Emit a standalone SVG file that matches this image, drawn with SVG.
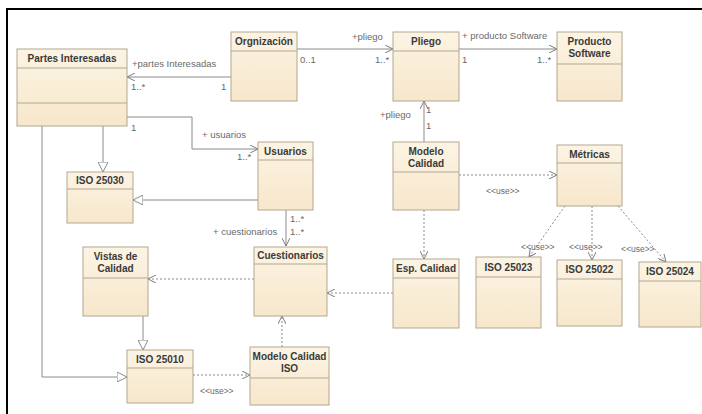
<svg xmlns="http://www.w3.org/2000/svg" width="702" height="414" viewBox="0 0 702 414">
<defs>
<linearGradient id="fill" x1="0" y1="0" x2="0" y2="1">
<stop offset="0" stop-color="#fcf4e4"/>
<stop offset="1" stop-color="#f7e7cb"/>
</linearGradient>
<marker id="open" viewBox="0 0 10 10" refX="10" refY="5" markerWidth="8" markerHeight="8" markerUnits="userSpaceOnUse" orient="auto">
<path d="M0,0 L10,5 L0,10" fill="none" stroke="#777" stroke-width="1.2"/>
</marker>
<marker id="tri" viewBox="0 0 10 10" refX="10" refY="5" markerWidth="10" markerHeight="10" markerUnits="userSpaceOnUse" orient="auto">
<path d="M0,0 L10,5 L0,10 Z" fill="#fff" stroke="#888" stroke-width="1"/>
</marker>
</defs>
<style>
.box{fill:url(#fill);stroke:#b3a78f;stroke-width:1}
.div{stroke:#b3a78f;stroke-width:1}
.t{font-family:"Liberation Sans",Arial,sans-serif;font-size:10px;font-weight:bold;fill:#3a3a3a;text-anchor:middle}
.l{font-family:"Liberation Sans",Arial,sans-serif;font-size:9.5px;fill:#6a6a6a}
.u{font-family:"Liberation Sans",Arial,sans-serif;font-size:8.5px;fill:#6a6a6a}
.a{fill:none;stroke:#8a8a8a;stroke-width:1;marker-end:url(#open)}
.d{fill:none;stroke:#8a8a8a;stroke-width:1;stroke-dasharray:2,2;marker-end:url(#open)}
.g{fill:none;stroke:#8a8a8a;stroke-width:1;marker-end:url(#tri)}
</style>
<rect width="702" height="414" fill="#fff"/>
<path d="M7,414 V9 H702" fill="none" stroke="#000" stroke-width="2"/>

<g id="connectors">
<path class="a" d="M231,77 H127"/>
<path class="a" d="M297,49 H393"/>
<path class="a" d="M459,49 H557"/>
<path class="a" d="M424,142 V101"/>
<path class="a" d="M127,117 H192 V149 H258"/>
<path class="g" d="M103,126 V172"/>
<path class="g" d="M258,200 H133"/>
<path class="a" d="M286,210 V246"/>
<path class="g" d="M42,126 V377 H127"/>
<path class="g" d="M143,316 V350"/>
<path class="d" d="M254,279 H148"/>
<path class="d" d="M393,293 H327"/>
<path class="d" d="M424,210 V259"/>
<path class="d" d="M459,175 H557"/>
<path class="d" d="M565,206 L529,257"/>
<path class="d" d="M592,206 V260"/>
<path class="d" d="M618,206 L666,262"/>
<path class="d" d="M193,375 H250"/>
<path class="d" d="M282,347 V316"/>
<text class="l" x="132" y="67">+partes Interesadas</text>
<text class="l" x="131" y="90">1..*</text>
<text class="l" x="221" y="90">1</text>
<text class="l" x="352" y="40">+pliego</text>
<text class="l" x="300" y="63">0..1</text>
<text class="l" x="375" y="63">1..*</text>
<text class="l" x="462" y="39">+ producto Software</text>
<text class="l" x="462" y="63">1</text>
<text class="l" x="537" y="63">1..*</text>
<text class="l" x="380" y="118">+pliego</text>
<text class="l" x="426" y="113">1</text>
<text class="l" x="426" y="129">1</text>
<text class="l" x="131" y="131">1</text>
<text class="l" x="202" y="138">+ usuarios</text>
<text class="l" x="237" y="160">1..*</text>
<text class="l" x="290" y="222">1..*</text>
<text class="l" x="290" y="235">1..*</text>
<text class="l" x="213" y="235">+ cuestionarios</text>
<text class="u" x="486" y="194">&lt;&lt;use&gt;&gt;</text>
<text class="u" x="521" y="250">&lt;&lt;use&gt;&gt;</text>
<text class="u" x="569" y="250">&lt;&lt;use&gt;&gt;</text>
<text class="u" x="621" y="252">&lt;&lt;use&gt;&gt;</text>
<text class="u" x="200" y="394">&lt;&lt;use&gt;&gt;</text>
</g>

<g id="partes">
<rect class="box" x="17" y="49" width="110" height="77"/>
<line class="div" x1="17" y1="68" x2="127" y2="68"/>
<line class="div" x1="17" y1="103" x2="127" y2="103"/>
<text class="t" x="72" y="62">Partes Interesadas</text>
</g>
<g id="organizacion">
<rect class="box" x="231" y="32" width="66" height="69"/>
<line class="div" x1="231" y1="51" x2="297" y2="51"/>
<text class="t" x="264" y="45">Orgnización</text>
</g>
<g id="pliego">
<rect class="box" x="393" y="32" width="66" height="69"/>
<line class="div" x1="393" y1="51" x2="459" y2="51"/>
<text class="t" x="426" y="45">Pliego</text>
</g>
<g id="producto">
<rect class="box" x="557" y="32" width="65" height="69"/>
<line class="div" x1="557" y1="64" x2="622" y2="64"/>
<text class="t" x="589.5" y="45">Producto</text>
<text class="t" x="589.5" y="57">Software</text>
</g>
<g id="iso25030">
<rect class="box" x="67" y="172" width="66" height="51"/>
<line class="div" x1="67" y1="189" x2="133" y2="189"/>
<text class="t" x="100" y="184">ISO 25030</text>
</g>
<g id="usuarios">
<rect class="box" x="258" y="142" width="55" height="68"/>
<line class="div" x1="258" y1="160" x2="313" y2="160"/>
<text class="t" x="285.5" y="155">Usuarios</text>
</g>
<g id="modelocalidad">
<rect class="box" x="393" y="142" width="66" height="68"/>
<line class="div" x1="393" y1="172" x2="459" y2="172"/>
<text class="t" x="426" y="155">Modelo</text>
<text class="t" x="426" y="167">Calidad</text>
</g>
<g id="metricas">
<rect class="box" x="557" y="145" width="65" height="61"/>
<line class="div" x1="557" y1="163" x2="622" y2="163"/>
<text class="t" x="589.5" y="158">Métricas</text>
</g>
<g id="iso25023">
<rect class="box" x="476" y="257" width="65" height="71"/>
<line class="div" x1="476" y1="277" x2="541" y2="277"/>
<text class="t" x="508.5" y="271">ISO 25023</text>
</g>
<g id="iso25022">
<rect class="box" x="557" y="260" width="65" height="66"/>
<line class="div" x1="557" y1="279" x2="622" y2="279"/>
<text class="t" x="589.5" y="273">ISO 25022</text>
</g>
<g id="iso25024">
<rect class="box" x="639" y="262" width="62" height="65"/>
<line class="div" x1="639" y1="281" x2="701" y2="281"/>
<text class="t" x="670" y="275">ISO 25024</text>
</g>
<g id="espcalidad">
<rect class="box" x="393" y="259" width="66" height="69"/>
<line class="div" x1="393" y1="278" x2="459" y2="278"/>
<text class="t" x="426" y="272">Esp. Calidad</text>
</g>
<g id="cuestionarios">
<rect class="box" x="254" y="247" width="73" height="69"/>
<line class="div" x1="254" y1="264" x2="327" y2="264"/>
<text class="t" x="290.5" y="259">Cuestionarios</text>
</g>
<g id="modeloiso">
<rect class="box" x="250" y="347" width="79" height="58"/>
<line class="div" x1="250" y1="378" x2="329" y2="378"/>
<text class="t" x="289.5" y="360">Modelo Calidad</text>
<text class="t" x="289.5" y="372">ISO</text>
</g>
<g id="vistas">
<rect class="box" x="83" y="247" width="65" height="69"/>
<line class="div" x1="83" y1="278" x2="148" y2="278"/>
<text class="t" x="115.5" y="260">Vistas de</text>
<text class="t" x="115.5" y="272">Calidad</text>
</g>
<g id="iso25010">
<rect class="box" x="127" y="350" width="66" height="53"/>
<line class="div" x1="127" y1="368" x2="193" y2="368"/>
<text class="t" x="160" y="363">ISO 25010</text>
</g>
</svg>
